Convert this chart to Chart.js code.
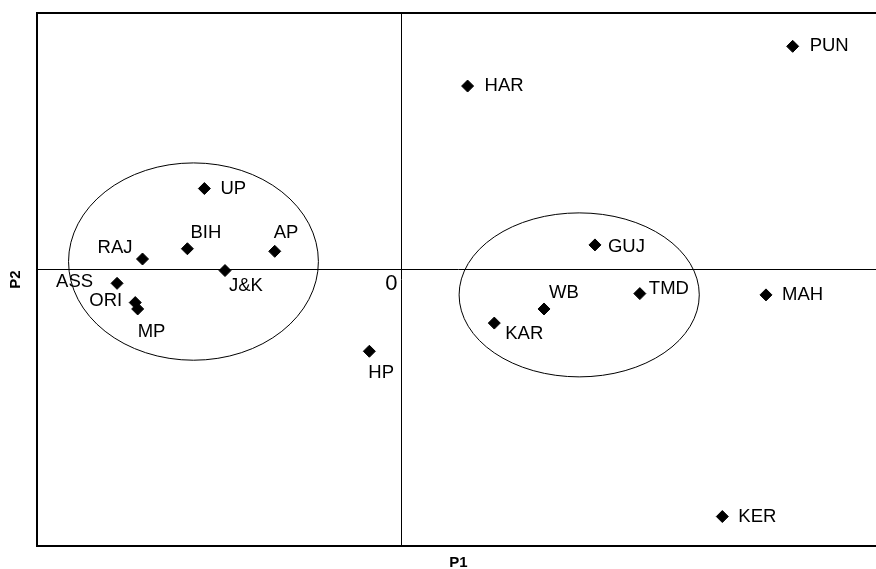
<!DOCTYPE html>
<html>
<head>
<meta charset="utf-8">
<title>P1 / P2 scatter</title>
<script src="https://cdn.jsdelivr.net/npm/chart.js"></script>
<style>
    html, body { margin: 0; padding: 0; background: #fff; overflow: hidden; }
    #wrap { width: 880px; height: 569px; }
</style>
</head>
<body>
<div id="wrap"><canvas id="chart" width="880" height="569"></canvas></div>
<script>
// state codes and their scores on the two axes
const states = ['PUN', 'HAR', 'UP', 'BIH', 'AP', 'RAJ', 'J&K', 'ASS', 'ORI', 'MP', 'HP', 'GUJ', 'TMD', 'WB', 'KAR', 'MAH', 'KER'];
const p1 = [3.23, 0.55, -1.62, -1.76, -1.04, -2.13, -1.45, -2.34, -2.19, -2.17, -0.26, 1.60, 1.97, 1.18, 0.77, 3.01, 2.65];
const p2 = [1.74, 1.43, 0.63, 0.16, 0.14, 0.08, -0.01, -0.11, -0.26, -0.31, -0.64, 0.19, -0.19, -0.31, -0.42, -0.20, -1.93];

// the two cluster ellipses: centre and radii in axis units
const clusterCx = [-1.71, 1.47];
const clusterCy = [0.06, -0.20];
const clusterRx = [1.03, 0.99];
const clusterRy = [0.77, 0.64];

const xRange = [-3, 3.95];
const yRange = [-2.16, 2];

// where each label sits next to its marker: [dx, dy, align]
const labelPlace = {
    'PUN': [17, 0, 'left'], 'HAR': [17, 0, 'left'], 'UP': [16, 0, 'left'],
    'BIH': [3, -16, 'left'], 'AP': [-1, -18, 'left'], 'RAJ': [-10, -11, 'right'],
    'J&K': [4, 15, 'left'], 'ASS': [-24, -1, 'right'], 'ORI': [-13, -2, 'right'],
    'MP': [0, 23, 'left'], 'HP': [-1, 22, 'left'], 'GUJ': [13, 2, 'left'],
    'TMD': [9, -5, 'left'], 'WB': [5, -16, 'left'], 'KAR': [11, 11, 'left'],
    'MAH': [16, 0, 'left'], 'KER': [16, 0, 'left']
};

const FONT = 'Liberation Sans, Arial, sans-serif';

const framePlugin = {
    id: 'frame',
    beforeDatasetsDraw(chart) {
        const { ctx, chartArea: a, scales: { x, y } } = chart;
        const x0 = Math.round(x.getPixelForValue(0)) + 0.5;
        const y0 = Math.round(y.getPixelForValue(0)) + 0.5;
        ctx.save();
        ctx.strokeStyle = '#000';

        // top edge of the frame
        ctx.lineWidth = 2;
        ctx.beginPath();
        ctx.moveTo(a.left - 1, a.top);
        ctx.lineTo(a.right, a.top);
        ctx.stroke();

        // zero lines
        ctx.lineWidth = 1;
        ctx.beginPath();
        ctx.moveTo(x0, a.top);
        ctx.lineTo(x0, a.bottom);
        ctx.moveTo(a.left, y0);
        ctx.lineTo(a.right, y0);
        ctx.stroke();

        // origin label
        ctx.fillStyle = '#000';
        ctx.font = '22px ' + FONT;
        ctx.textAlign = 'right';
        ctx.textBaseline = 'middle';
        ctx.fillText('0', x0 - 4, y0 + 14);

        // cluster ellipses
        ctx.lineWidth = 1;
        for (let i = 0; i < clusterCx.length; i++) {
            const cx = x.getPixelForValue(clusterCx[i]);
            const cy = y.getPixelForValue(clusterCy[i]);
            const rx = Math.abs(x.getPixelForValue(clusterCx[i] + clusterRx[i]) - cx);
            const ry = Math.abs(y.getPixelForValue(clusterCy[i] + clusterRy[i]) - cy);
            ctx.beginPath();
            ctx.ellipse(cx, cy, rx, ry, 0, 0, Math.PI * 2);
            ctx.stroke();
        }
        ctx.restore();
    },
    afterDatasetsDraw(chart) {
        const { ctx } = chart;
        const meta = chart.getDatasetMeta(0);
        ctx.save();
        ctx.fillStyle = '#000';
        ctx.font = '18.5px ' + FONT;
        ctx.textBaseline = 'middle';
        meta.data.forEach((pt, i) => {
            const place = labelPlace[states[i]] || [14, 0, 'left'];
            ctx.textAlign = place[2];
            ctx.fillText(states[i], pt.x + place[0], pt.y + place[1]);
        });
        ctx.restore();
    }
};

new Chart(document.getElementById('chart'), {
    type: 'scatter',
    data: {
        datasets: [{
            label: 'States',
            data: p1.map((v, i) => ({ x: v, y: p2[i] })),
            pointStyle: 'rectRot',
            pointRadius: 6,
            backgroundColor: '#000',
            borderColor: '#000',
            borderWidth: 1
        }]
    },
    options: {
        responsive: false,
        animation: false,
        layout: { autoPadding: false, padding: { top: 13, right: 0, bottom: 0, left: 0 } },
        plugins: { legend: { display: false }, tooltip: { enabled: false } },
        scales: {
            x: {
                type: 'linear',
                min: xRange[0],
                max: xRange[1],
                ticks: { display: false },
                grid: { display: false, drawTicks: false },
                border: { display: true, color: '#000', width: 2 },
                title: {
                    display: true,
                    text: 'P1',
                    color: '#000',
                    font: { family: FONT, size: 15, weight: 'bold', lineHeight: 0.8 },
                    padding: { top: 11, bottom: 0 }
                }
            },
            y: {
                type: 'linear',
                min: yRange[0],
                max: yRange[1],
                ticks: { display: false },
                grid: { display: false, drawTicks: false },
                border: { display: true, color: '#000', width: 2 },
                title: {
                    display: true,
                    text: 'P2',
                    color: '#000',
                    font: { family: FONT, size: 15, weight: 'bold', lineHeight: 1.2 },
                    padding: { top: 7, bottom: 12 }
                }
            }
        }
    },
    plugins: [framePlugin]
});
</script>
</body>
</html>
